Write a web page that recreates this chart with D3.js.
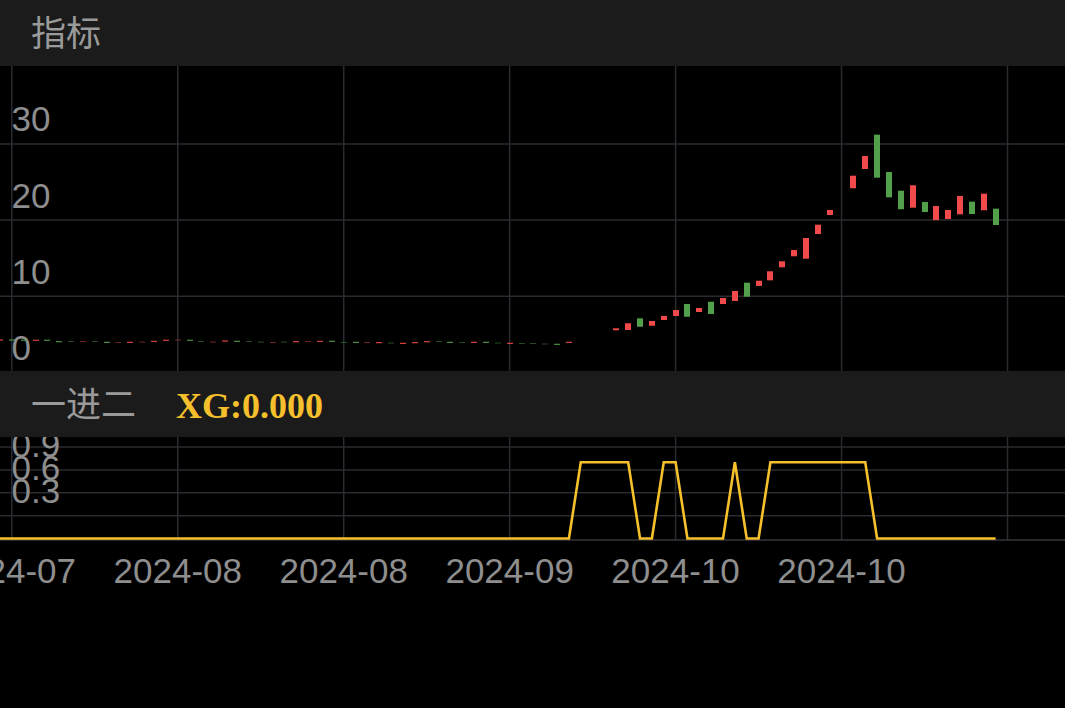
<!DOCTYPE html>
<html><head><meta charset="utf-8">
<script src="https://cdn.jsdelivr.net/npm/d3@7"></script>
<style>html,body{margin:0;padding:0;background:#000;overflow:hidden}</style>
</head><body>
<svg id="chart" width="1065" height="708"></svg>
<script>
// ---- data ----
const firstIndex = -1; // index of first candle relative to first grid column
const openPrice = [4.18,4.32,4.29,4.15,4.29,4.10,4.11,4.05,4.06,4.02,3.87,3.88,3.96,4.01,4.15,4.22,4.29,4.06,3.96,4.05,
  4.15,4.06,4.02,3.92,4.02,3.96,4.05,4.01,4.15,3.98,4.02,3.87,3.83,3.89,3.75,3.83,3.96,4.06,4.02,3.98,
  3.88,4.02,3.89,3.75,3.85,3.85,3.76,3.76,3.88,4.42,4.86,5.35,5.53,5.57,7.10,6.13,6.88,7.41,8.98,7.93,
  9.28,8.98,9.38,11.78,11.35,12.09,13.80,15.25,14.93,18.17,20.67,23.45,24.18,26.71,31.22,26.32,23.86,21.63,22.38,20.01,
  20.14,20.76,22.42,21.29,21.50];
const closePrice = [4.32,4.18,4.15,4.29,4.15,3.96,4.05,4.11,4.00,3.88,3.93,4.02,4.02,4.15,4.29,4.28,4.15,4.00,4.02,4.19,
  4.01,4.00,3.96,3.98,3.96,4.10,4.11,4.15,4.01,3.92,3.88,3.93,3.97,3.83,3.89,3.97,4.10,4.00,3.88,3.92,
  4.02,3.88,3.83,3.89,3.79,3.79,3.70,3.62,4.02,4.42,4.86,5.35,5.79,6.45,6.00,6.75,7.41,8.19,7.31,8.46,
  7.67,9.77,10.69,9.94,12.04,13.28,14.59,16.07,17.65,19.40,21.33,23.45,25.83,28.42,25.57,22.99,21.42,24.57,21.06,21.85,
  21.33,23.16,20.80,23.47,19.36];
const xgSignal = [0,0,0,0,0,0,0,0,0,0,0,0,0,0,0,0,0,0,0,0,
  0,0,0,0,0,0,0,0,0,0,0,0,0,0,0,0,0,0,0,0,
  0,0,0,0,0,0,0,0,0,1,1,1,1,1,0,0,1,1,0,0,
  0,0,1,0,0,1,1,1,1,1,1,1,1,1,0,0,0,0,0,0,
  0,0,0,0,0];
const tickIndex = [0,14,28,42,56,70,84];
const tickLabels = ["2024-07","2024-08","2024-08","2024-09","2024-10","2024-10",""];
const priceTicks = [0,10,20,30];
const priceGrid = [10,20,30];
const xgTicks = [0.3,0.6,0.9];
const xgGrid = [0.3,0.6,0.9,1.2];
const title1 = "指标";
const title2 = "一进二";
const xgText = "XG:0.000";

// ---- styles ----
const W = 1065, H = 708;
const C = {bg:"#000", band:"#1b1b1b", grid:"#2a2a31", text:"#8e8e8e", head:"#9a9a9a",
  up:"#f24a4a", down:"#52a04a", xg:"#f5c02c"};
const top1 = 0, top1b = 66, p1t = 66, p1b = 371, top2b = 437, p2b = 540;

const svg = d3.select("#chart");
svg.append("rect").attr("width",W).attr("height",H).attr("fill",C.bg);

const candles = openPrice.map((o,k)=>({i:firstIndex+k, o, c:closePrice[k]}));
const xgData = xgSignal.map((v,k)=>({i:firstIndex+k, v}));

const x = d3.scaleLinear().domain([0,84]).range([11.8,1007.5]);
const y = d3.scaleLinear().domain([0,40]).range([372.4, 67.8]);
const y2 = d3.scaleLinear().domain([0,1]).range([538.5, 462.3]);

const font = "'Liberation Sans', Arial, Helvetica, sans-serif";
const cjk = "'Noto Sans CJK SC', 'Noto Sans', sans-serif";

// ---- top panel ----
const g1 = svg.append("g");
g1.selectAll("line.h").data(priceGrid).join("line")
  .attr("x1",0).attr("x2",W).attr("y1",d=>y(d)).attr("y2",d=>y(d))
  .attr("stroke",C.grid).attr("stroke-width",1.5);
g1.selectAll("line.v").data(tickIndex).join("line")
  .attr("x1",d=>x(d)).attr("x2",d=>x(d)).attr("y1",p1t).attr("y2",p1b)
  .attr("stroke",C.grid).attr("stroke-width",1.5);
g1.selectAll("text.yl").data(priceTicks).join("text")
  .attr("x",11.5).attr("y",d=>y(d)-12.5)
  .attr("fill",C.text).attr("font-family",font).attr("font-size",35)
  .text(d=>d);
g1.selectAll("rect.candle").data(candles).join("rect")
  .attr("x",d=>Math.round(x(d.i)-3)).attr("width",6)
  .attr("y",d=>y(Math.max(d.o,d.c)))
  .attr("height",d=>Math.abs(y(d.o)-y(d.c)))
  .attr("fill",d=>d.c>=d.o?C.up:C.down);

// ---- bottom panel ----
const g2 = svg.append("g");
g2.selectAll("line.h").data(xgGrid).join("line")
  .attr("x1",0).attr("x2",W).attr("y1",d=>y2(d)).attr("y2",d=>y2(d))
  .attr("stroke",C.grid).attr("stroke-width",1.5);
g2.selectAll("line.v").data(tickIndex).join("line")
  .attr("x1",d=>x(d)).attr("x2",d=>x(d)).attr("y1",top2b).attr("y2",p2b)
  .attr("stroke",C.grid).attr("stroke-width",1.5);
g2.append("line").attr("x1",0).attr("x2",W).attr("y1",540).attr("y2",540)
  .attr("stroke","#34343b").attr("stroke-width",1.5);
g2.selectAll("text.yl").data(xgTicks).join("text")
  .attr("x",11.5).attr("y",d=>y2(d)-12.5)
  .attr("fill",C.text).attr("font-family",font).attr("font-size",35)
  .text(d=>d.toFixed(1));
g2.append("path").datum(xgData)
  .attr("d",d3.line().x(d=>x(d.i)).y(d=>y2(d.v)))
  .attr("fill","none").attr("stroke",C.xg).attr("stroke-width",2.6);

// ---- x axis labels ----
svg.selectAll("text.xl").data(tickIndex.map((t,k)=>({t,l:tickLabels[k]}))).join("text")
  .attr("x",d=>x(d.t)).attr("y",583)
  .attr("text-anchor","middle").attr("fill",C.text)
  .attr("font-family",font).attr("font-size",35)
  .text(d=>d.l);

// ---- header bands ----
svg.append("rect").attr("x",0).attr("y",top1).attr("width",W).attr("height",top1b-top1).attr("fill",C.band);
svg.append("text").attr("x",31).attr("y",46).attr("fill",C.head)
  .attr("font-family",cjk).attr("font-size",35).text(title1);
svg.append("rect").attr("x",0).attr("y",p1b).attr("width",W).attr("height",top2b-p1b).attr("fill",C.band);
svg.append("text").attr("x",31).attr("y",417).attr("fill",C.head)
  .attr("font-family",cjk).attr("font-size",35).text(title2);
svg.append("text").attr("x",176).attr("y",418).attr("fill",C.xg)
  .attr("font-family","'Liberation Serif', 'Times New Roman', serif").attr("font-weight","bold")
  .attr("font-size",36).text(xgText);
</script>
</body></html>
